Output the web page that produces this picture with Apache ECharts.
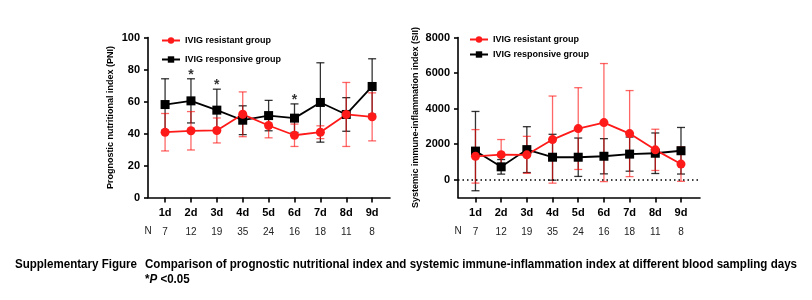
<!DOCTYPE html>
<html>
<head>
<meta charset="utf-8">
<script src="https://cdn.jsdelivr.net/npm/echarts@6/dist/echarts.min.js"></script>
<style>
  html, body { margin: 0; padding: 0; background: #fff; }
  #chart { width: 812px; height: 300px; }
</style>
</head>
<body>
<div id="chart"></div>
<script>
const days = [1, 2, 3, 4, 5, 6, 7, 8, 9];
const nCounts = [7, 12, 19, 35, 24, 16, 18, 11, 8];

const pniResistant = [40.8, 41.7, 41.9, 52.0, 45.0, 38.9, 40.8, 51.9, 50.4];
const pniResistantSd = [11.7, 12.0, 7.8, 14.0, 7.7, 7.0, 4.0, 20.0, 15.0];
const pniResponsive = [58.1, 60.4, 54.6, 48.3, 51.2, 49.6, 59.4, 51.9, 69.4];
const pniResponsiveSd = [16.1, 13.8, 13.1, 9.0, 9.5, 8.9, 24.8, 10.5, 17.3];

const siiResistant = [1315, 1410, 1400, 2257, 2876, 3215, 2595, 1680, 880];
const siiResistantSd = [1505, 850, 1040, 2450, 2300, 3320, 2420, 1160, 970];
const siiResponsive = [1610, 725, 1693, 1265, 1265, 1320, 1440, 1490, 1630];
const siiResponsiveSd = [2230, 410, 1290, 1290, 1080, 990, 960, 1140, 1310];

const siiTicks = [0, 2000, 4000, 6000, 8000];
const starDays = [2, 3, 6];

const RED = '#ff1a1a';
const BLACK = '#000';
const FONT = '"Liberation Sans", Arial, sans-serif';

const chart = echarts.init(document.getElementById('chart'));

function pairs(vals) {
    return days.map((d, i) => [d, vals[i]]);
}
function errData(vals, sd) {
    return days.map((d, i) => [d, vals[i] - sd[i], vals[i] + sd[i]]);
}
function errorBars(idx, vals, sd, color) {
    return {
        type: 'custom',
        xAxisIndex: idx,
        yAxisIndex: idx,
        z: 1,
        silent: true,
        data: errData(vals, sd),
        renderItem: (params, api) => {
            const lo = api.coord([api.value(0), api.value(1)]);
            const hi = api.coord([api.value(0), api.value(2)]);
            const w = 4;
            const style = { stroke: color, lineWidth: 1.3 };
            return {
                type: 'group',
                children: [
                    { type: 'line', shape: { x1: hi[0], y1: hi[1], x2: lo[0], y2: lo[1] }, style },
                    { type: 'line', shape: { x1: hi[0] - w, y1: hi[1], x2: hi[0] + w, y2: hi[1] }, style },
                    { type: 'line', shape: { x1: lo[0] - w, y1: lo[1], x2: lo[0] + w, y2: lo[1] }, style }
                ]
            };
        }
    };
}

// the caption is set in a narrow face: squeeze the bold sans to the same width
const captionText = 'Comparison of prognostic nutritional index and systemic immune-inflammation index at different blood sampling days';
const ctx = document.createElement('canvas').getContext('2d');
ctx.font = 'bold 12px ' + FONT;
const squeeze = 652 / ctx.measureText(captionText).width;

const xAxisBase = {
    type: 'value',
    axisLine: { show: true, onZero: false, lineStyle: { color: BLACK, width: 1.6 } },
    axisTick: { show: true, customValues: days, length: 5, lineStyle: { color: BLACK, width: 1.6 } },
    splitLine: { show: false },
    axisLabel: {
        customValues: days,
        margin: 6,
        formatter: v => `{d|${v}d}\n{n|${nCounts[v - 1]}}`,
        rich: {
            d: { fontSize: 11, fontWeight: 'bold', color: BLACK, fontFamily: FONT, lineHeight: 19 },
            n: { fontSize: 10, color: '#222', fontFamily: FONT, lineHeight: 19 }
        }
    }
};

const yAxisBase = {
    type: 'value',
    nameLocation: 'middle',
    nameRotate: 90,
    nameTextStyle: { fontSize: 9, fontWeight: 'bold', color: BLACK, fontFamily: FONT },
    axisLine: { show: true, lineStyle: { color: BLACK, width: 1.6 } },
    axisTick: { show: true, length: 4, lineStyle: { color: BLACK, width: 1.6 } },
    splitLine: { show: false },
    axisLabel: {
        fontSize: 11, fontWeight: 'bold', color: BLACK, fontFamily: FONT, margin: 8,
        formatter: v => String(v)
    }
};

function lineSeries(idx, name, vals, color, symbol) {
    return {
        type: 'line',
        name: name,
        xAxisIndex: idx,
        yAxisIndex: idx,
        data: pairs(vals),
        symbol: symbol,
        symbolSize: 9,
        z: 3,
        itemStyle: { color: color },
        lineStyle: { color: color, width: 1.8 }
    };
}

const legendBase = {
    orient: 'vertical',
    itemWidth: 18,
    itemHeight: 8,
    data: ['IVIG resistant group', 'IVIG responsive group'],
    textStyle: { fontSize: 9, fontWeight: 'bold', color: BLACK, fontFamily: FONT },
    selectedMode: false
};

chart.setOption({
    animation: false,
    textStyle: { fontFamily: FONT },
    grid: [
        { left: 148, width: 242, top: 37.5, height: 160 },
        { left: 458, width: 242, top: 37.5, height: 160 }
    ],
    legend: [
        Object.assign({ left: 156, top: 31, itemGap: 10 }, legendBase),
        Object.assign({ left: 464, top: 30, itemGap: 6 }, legendBase)
    ],
    xAxis: [
        Object.assign({ gridIndex: 0, min: 0.34, max: 9.69 }, xAxisBase),
        Object.assign({ gridIndex: 1, min: 0.32, max: 9.74 }, xAxisBase)
    ],
    yAxis: [
        Object.assign({}, yAxisBase, {
            gridIndex: 0, min: 0, max: 100, interval: 20,
            name: 'Prognostic nutritional index (PNI)', nameGap: 33
        }),
        Object.assign({}, yAxisBase, {
            gridIndex: 1, min: -1000, max: 8000,
            name: 'Systemic immune-inflammation index (SII)', nameGap: 38,
            axisTick: Object.assign({}, yAxisBase.axisTick, { customValues: siiTicks }),
            axisLabel: Object.assign({}, yAxisBase.axisLabel, { customValues: siiTicks })
        })
    ],
    series: [
        errorBars(0, pniResponsive, pniResponsiveSd, 'rgba(0,0,0,0.8)'),
        errorBars(0, pniResistant, pniResistantSd, 'rgba(255,0,0,0.6)'),
        lineSeries(0, 'IVIG responsive group', pniResponsive, BLACK, 'rect'),
        lineSeries(0, 'IVIG resistant group', pniResistant, RED, 'circle'),
        {
            type: 'scatter',
            xAxisIndex: 0,
            yAxisIndex: 0,
            symbolSize: 0,
            silent: true,
            data: starDays.map(d => [d, pniResponsive[d - 1] + pniResponsiveSd[d - 1]]),
            label: {
                show: true,
                position: 'top',
                distance: -3,
                formatter: '*',
                fontSize: 14,
                fontWeight: 'bold',
                color: BLACK,
                fontFamily: FONT
            }
        },
        errorBars(1, siiResponsive, siiResponsiveSd, 'rgba(0,0,0,0.8)'),
        errorBars(1, siiResistant, siiResistantSd, 'rgba(255,0,0,0.6)'),
        Object.assign(lineSeries(1, 'IVIG responsive group', siiResponsive, BLACK, 'rect'), {
            markLine: {
                silent: true,
                symbol: 'none',
                label: { show: false },
                lineStyle: { color: BLACK, type: [1.5, 3], width: 1.5 },
                data: [{ yAxis: 0 }]
            }
        }),
        lineSeries(1, 'IVIG resistant group', siiResistant, RED, 'circle')
    ],
    graphic: [
        {
            type: 'text', x: 148, y: 231,
            style: { text: 'N', font: '10px ' + FONT, fill: '#222', textAlign: 'center', textVerticalAlign: 'middle' }
        },
        {
            type: 'text', x: 458, y: 231,
            style: { text: 'N', font: '10px ' + FONT, fill: '#222', textAlign: 'center', textVerticalAlign: 'middle' }
        },
        {
            type: 'text', x: 137, y: 265, scaleX: squeeze,
            style: { text: 'Supplementary Figure', font: 'bold 12px ' + FONT, fill: BLACK, textAlign: 'right', textVerticalAlign: 'middle' }
        },
        {
            type: 'text', x: 145, y: 265, scaleX: squeeze,
            style: { text: captionText, font: 'bold 12px ' + FONT, fill: BLACK, textVerticalAlign: 'middle' }
        },
        {
            type: 'text', x: 145, y: 280, scaleX: squeeze,
            style: {
                text: '*{i|P} <0.05',
                font: 'bold 12px ' + FONT,
                fill: BLACK,
                textVerticalAlign: 'middle',
                rich: { i: { fontStyle: 'italic', fontWeight: 'bold', fontSize: 12, fontFamily: FONT } }
            }
        }
    ]
});

window.addEventListener('resize', () => chart.resize());
</script>
</body>
</html>
